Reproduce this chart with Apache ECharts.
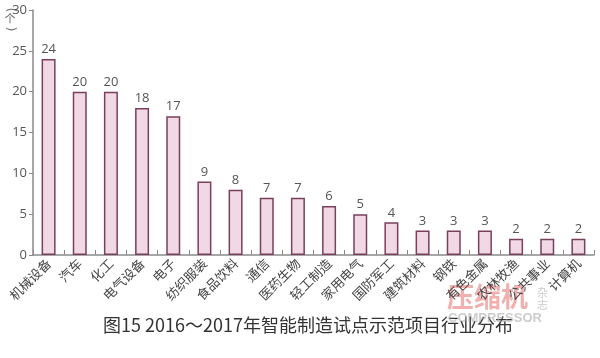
<!DOCTYPE html>
<html><head><meta charset="utf-8">
<script src="https://cdn.jsdelivr.net/npm/echarts@6/dist/echarts.min.js"></script>
<style>html,body{margin:0;padding:0;background:#fff}#c{width:600px;height:358px}</style>
</head><body><div id="c"></div>
<script>
const categories = ['机械设备','汽车','化工','电气设备','电子','纺织服装','食品饮料','通信','医药生物','轻工制造','家用电气','国防军工','建筑材料','钢铁','有色金属','农林牧渔','公共事业','计算机'];
const values = [24,20,20,18,17,9,8,7,7,6,5,4,3,3,3,2,2,2];
const yTicks = [0,5,10,15,20,25,30];
const unitText = '个';
const titleText = '图15 2016～2017年智能制造试点示范项目行业分布';

const chart = echarts.init(document.getElementById('c'));
const font = '"Noto Sans CJK SC", "Noto Sans", sans-serif';
const paren = (ch, y) => ({type:'text',x:10,y:y,rotation:-Math.PI/2,
  style:{text:ch,fontSize:13,fill:'#777',align:'center',verticalAlign:'middle',fontFamily:'"DejaVu Sans", sans-serif'}});
chart.setOption({
  animation:false,
  grid:{left:33,right:6,top:10,bottom:103,containLabel:false},
  xAxis:{type:'category',data:categories,
    axisLine:{lineStyle:{color:'#8a8a8a',width:1.5}},
    axisTick:{show:true,inside:true,length:5,lineStyle:{color:'#8a8a8a'}},
    axisLabel:{rotate:45,interval:0,fontSize:13,color:'#444',fontFamily:font,margin:6}},
  yAxis:{type:'value',min:0,max:30,interval:5,
    axisLine:{show:true,lineStyle:{color:'#8a8a8a',width:1.5}},
    axisTick:{show:true,length:4,lineStyle:{color:'#8a8a8a'}},
    splitLine:{show:false},
    axisLabel:{fontSize:13,color:'#555',fontFamily:'"Open Sans", sans-serif',margin:6,
      formatter:v=>yTicks.includes(v)?String(v):''}},
  series:[{type:'bar',data:values,barWidth:14,
    itemStyle:{color:'#f0d9e4',borderColor:'#7b3f5e',borderWidth:1.5},
    label:{show:true,position:'top',fontSize:13,color:'#555',distance:3,fontFamily:'"Open Sans", sans-serif'}}],
  graphic:[
    paren('(',10),
    {type:'text',x:10,y:19,style:{text:unitText,fontSize:11,fill:'#666',align:'center',verticalAlign:'middle',fontFamily:font}},
    paren(')',29),
    {type:'text',left:103,top:316,style:{text:titleText,fontSize:18,fill:'#333',fontFamily:'"Noto Sans CJK SC", serif'}},
    {type:'text',left:447,top:283,style:{text:'压缩机',fontSize:27,fontWeight:'bold',fill:'rgba(230,110,110,0.55)',fontFamily:font}},
    {type:'text',left:537,top:287,style:{text:'杂\n志',fontSize:11,lineHeight:12,fill:'rgba(180,180,180,0.7)',fontFamily:font}},
    {type:'text',left:448,top:312,style:{text:'COMPRESSOR',fontSize:13,fontWeight:'bold',fill:'rgba(170,170,170,0.6)',fontFamily:'"Liberation Sans", sans-serif'}}
  ]
});
</script></body></html>
